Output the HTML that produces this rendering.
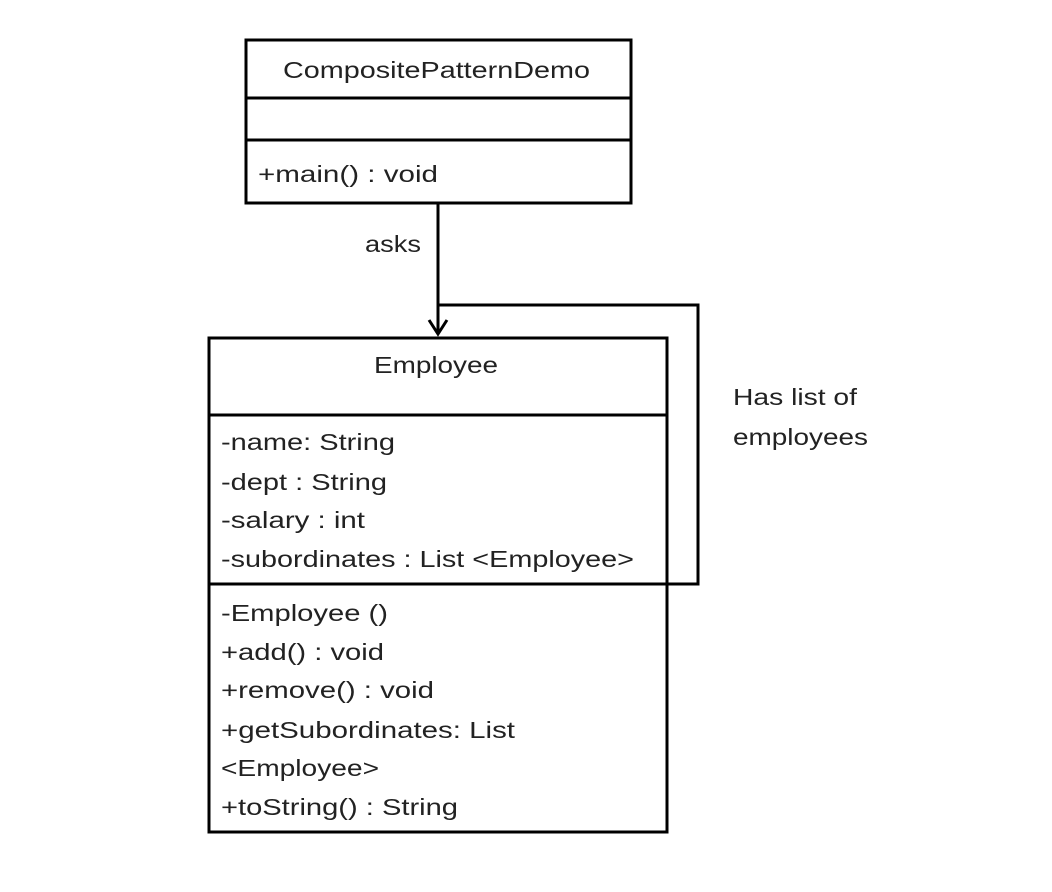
<!DOCTYPE html>
<html><head><meta charset="utf-8"><style>html,body{margin:0;padding:0;background:#fff}svg{display:block}</style></head>
<body>
<svg width="1052" height="892" viewBox="0 0 1052 892" xmlns="http://www.w3.org/2000/svg" font-family="Liberation Sans, sans-serif" font-size="23" fill="#222">
<g fill="none" stroke="#000" stroke-width="3">
<rect x="246" y="40" width="385" height="163"/>
<line x1="246" y1="98" x2="631" y2="98"/>
<line x1="246" y1="140" x2="631" y2="140"/>
<rect x="209" y="338" width="458" height="494"/>
<line x1="209" y1="415" x2="667" y2="415"/>
<line x1="209" y1="584" x2="667" y2="584"/>
<line x1="438" y1="203" x2="438" y2="334"/>
<polyline points="438,305 698,305 698,584 667,584"/>
<polyline points="429,320 438,334 447,320"/>
</g>
<text x="283" y="78" textLength="307" lengthAdjust="spacingAndGlyphs">CompositePatternDemo</text>
<text x="258" y="182" textLength="180" lengthAdjust="spacingAndGlyphs">+main() : void</text>
<text x="365" y="252" textLength="56" lengthAdjust="spacingAndGlyphs">asks</text>
<text x="374" y="373" textLength="124" lengthAdjust="spacingAndGlyphs">Employee</text>
<text x="221" y="450" textLength="174" lengthAdjust="spacingAndGlyphs">-name:  String</text>
<text x="221" y="490" textLength="166" lengthAdjust="spacingAndGlyphs">-dept : String</text>
<text x="221" y="528" textLength="144" lengthAdjust="spacingAndGlyphs">-salary : int</text>
<text x="221" y="567" textLength="413" lengthAdjust="spacingAndGlyphs">-subordinates  : List &lt;Employee&gt;</text>
<text x="221" y="621" textLength="167" lengthAdjust="spacingAndGlyphs">-Employee  ()</text>
<text x="221" y="660" textLength="163" lengthAdjust="spacingAndGlyphs">+add() : void</text>
<text x="221" y="698" textLength="213" lengthAdjust="spacingAndGlyphs">+remove()  : void</text>
<text x="221" y="738" textLength="294" lengthAdjust="spacingAndGlyphs">+getSubordinates:  List</text>
<text x="221" y="776" textLength="158" lengthAdjust="spacingAndGlyphs">&lt;Employee&gt;</text>
<text x="221" y="815" textLength="237" lengthAdjust="spacingAndGlyphs">+toString()  : String</text>
<text x="733" y="405" textLength="124" lengthAdjust="spacingAndGlyphs">Has list of</text>
<text x="733" y="445" textLength="135" lengthAdjust="spacingAndGlyphs">employees</text>
</svg>
</body></html>
